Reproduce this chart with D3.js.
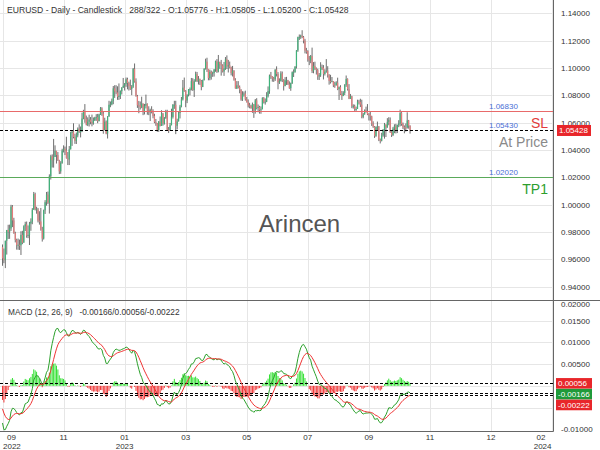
<!DOCTYPE html>
<html><head><meta charset="utf-8">
<script src="https://cdn.jsdelivr.net/npm/d3@7/dist/d3.min.js"></script>
<style>body{margin:0;background:#fff}svg{display:block;font-family:"Liberation Sans",Arial,sans-serif}</style>
</head><body><svg id="c" width="600" height="450"></svg>
<script>
// ---------------- DATA ----------------
const symbol = "EURUSD", period = "Daily", chartType = "Candlestick";
const totalSlots = 322;
const firstDay = [2022, 8, 26];           // first bar: 26 Sep 2022 (month 0-based)
const firstOpen = 0.9690;                 // opens are the previous bar's close
const closes = [
0.9607,0.9594,0.9736,0.9815,0.9802,0.9826,0.9986,0.9885,0.9792,0.9742,
0.9704,0.9707,0.9703,0.9779,0.9722,0.9842,0.9857,0.9774,0.9779,0.9862,
0.9877,0.9963,1.0078,0.9966,0.9966,0.9883,0.9877,0.9818,0.9752,0.9959,
1.0018,1.0074,1.0014,1.0208,1.0354,1.0325,1.0349,1.0394,1.0363,1.0325,
1.0244,1.0305,1.0396,1.0408,1.0397,1.0340,1.0330,1.0405,1.0525,1.0535,
1.0495,1.0466,1.0507,1.0555,1.0535,1.0538,1.0630,1.0681,1.0627,1.0585,
1.0607,1.0623,1.0606,1.0596,1.0617,1.0637,1.0640,1.0611,1.0660,1.0705,
1.0667,1.0547,1.0607,1.0520,1.0644,1.0731,1.0734,1.0760,1.0851,1.0829,
1.0821,1.0789,1.0795,1.0830,1.0856,1.0870,1.0884,1.0917,1.0890,1.0868,
1.0846,1.0863,1.0993,1.0900,1.0794,1.0727,1.0726,1.0712,1.0740,1.0678,
1.0724,1.0738,1.0688,1.0676,1.0694,1.0686,1.0649,1.0604,1.0595,1.0546,
1.0607,1.0576,1.0667,1.0595,1.0636,1.0681,1.0549,1.0545,1.0581,1.0642,
1.0731,1.0731,1.0577,1.0609,1.0670,1.0718,1.0770,1.0856,1.0832,1.0762,
1.0801,1.0844,1.0845,1.0904,1.0839,1.0902,1.0955,1.0904,1.0920,1.0903,
1.0861,1.0910,1.0994,1.1046,1.0992,1.0926,1.0972,1.0957,1.0964,1.0989,
1.1049,1.0974,1.1044,1.1028,1.1019,1.0974,1.0995,1.1063,1.1011,1.1020,
1.1005,1.0962,1.0980,1.0914,1.0850,1.0873,1.0861,1.0840,1.0769,1.0806,
1.0813,1.0771,1.0750,1.0726,1.0723,1.0706,1.0734,1.0689,1.0763,1.0708,
1.0715,1.0693,1.0698,1.0780,1.0749,1.0753,1.0793,1.0831,1.0945,1.0939,
1.0923,1.0917,1.0988,1.0956,1.0894,1.0906,1.0960,1.0911,1.0868,1.0910,
1.0910,1.0880,1.0852,1.0889,1.0969,1.0969,1.1010,1.1128,1.1225,1.1228,
1.1236,1.1226,1.1200,1.1127,1.1124,1.1063,1.1055,1.1087,1.0977,1.1015,
1.0997,1.0985,1.0938,1.0946,1.1006,1.1002,1.0956,1.0973,1.0981,1.0947,
1.0906,1.0904,1.0904,1.0873,1.0872,1.0893,1.0845,1.0860,1.0810,1.0795,
1.0818,1.0877,1.0920,1.0845,1.0775,1.0793,1.0721,1.0723,1.0698,1.0700,
1.0754,1.0752,1.0732,1.0643,1.0660,1.0690,1.0678,1.0661,1.0659,1.0646,
1.0593,1.0570,1.0503,1.0568,1.0573,1.0475,1.0467,1.0506,1.0549,1.0587,
1.0564,1.0606,1.0619,1.0530,1.0510,1.0557,1.0575,1.0545,1.0583,1.0594,
1.0670,1.0590,1.0566,1.0565,1.0564,1.0616,1.05776,1.05428];
const highs = [
0.9709,0.9679,0.9737,0.9815,0.9853,0.9854,0.9999,0.9997,0.9904,0.9802,
0.9751,0.9752,0.9745,0.9806,0.9809,0.9849,0.9875,0.9877,0.9848,0.9874,
0.9900,0.9975,1.0093,1.0088,0.9985,0.9976,0.9952,0.9976,0.9838,0.9964,
1.0033,1.0093,1.0096,1.0222,1.0365,1.0368,1.0481,1.0434,1.0392,1.0385,
1.0328,1.0318,1.0409,1.0434,1.0425,1.0497,1.0385,1.0429,1.0534,1.0545,
1.0595,1.0519,1.0528,1.0565,1.0588,1.0572,1.0673,1.0694,1.0736,1.0652,
1.0639,1.0658,1.0641,1.0659,1.0638,1.0643,1.0662,1.0664,1.0665,1.0714,
1.0713,1.0684,1.0636,1.0616,1.0648,1.0760,1.0755,1.0776,1.0868,1.0874,
1.0874,1.0866,1.0887,1.0836,1.0860,1.0927,1.0890,1.0930,1.0929,1.0900,
1.0915,1.0875,1.1000,1.1033,1.0924,1.0803,1.0759,1.0755,1.0790,1.0740,
1.0737,1.0805,1.0741,1.0720,1.0702,1.0720,1.0698,1.0665,1.0627,1.0598,
1.0612,1.0645,1.0691,1.0670,1.0641,1.0694,1.0694,1.0568,1.0598,1.0702,
1.0736,1.0760,1.0760,1.0629,1.0680,1.0730,1.0788,1.0912,1.0930,1.0838,
1.0808,1.0846,1.0857,1.0927,1.0925,1.0918,1.0973,1.0971,1.0941,1.0922,
1.0912,1.0915,1.0998,1.1068,1.1075,1.0993,1.0988,1.0981,1.0973,1.0992,
1.1054,1.1065,1.1095,1.1046,1.1059,1.1027,1.1044,1.1080,1.1092,1.1059,
1.1047,1.1010,1.1015,1.0984,1.0925,1.0904,1.0904,1.0872,1.0845,1.0830,
1.0828,1.0834,1.0788,1.0770,1.0745,1.0731,1.0747,1.0736,1.0773,1.0779,
1.0733,1.0723,1.0719,1.0786,1.0787,1.0777,1.0823,1.0865,1.0952,1.0971,
1.0940,1.0935,1.0991,1.1012,1.0970,1.0924,1.0976,1.0974,1.0918,1.0933,
1.0935,1.0913,1.0902,1.0893,1.0975,1.0990,1.1013,1.1131,1.1229,1.1245,
1.1244,1.1276,1.1234,1.1213,1.1147,1.1130,1.1088,1.1095,1.1149,1.1043,
1.1046,1.1004,1.0995,1.0963,1.1042,1.1025,1.1021,1.0991,1.1065,1.1013,
1.0955,1.0950,1.0934,1.0903,1.0899,1.0903,1.0929,1.0865,1.0874,1.0832,
1.0830,1.0882,1.0945,1.0924,1.0882,1.0810,1.0796,1.0734,1.0732,1.0717,
1.0768,1.0767,1.0775,1.0768,1.0671,1.0697,1.0717,1.0736,1.0670,1.0681,
1.0651,1.0610,1.0575,1.0573,1.0608,1.0575,1.0484,1.0526,1.0553,1.0598,
1.0577,1.0633,1.0640,1.0638,1.0538,1.0569,1.0588,1.0591,1.0586,1.0618,
1.0695,1.0677,1.0601,1.0580,1.0594,1.0676,1.0620,1.05805];
const lows = [
0.9553,0.9572,0.9536,0.9635,0.9749,0.9750,0.9808,0.9836,0.9787,0.9724,
0.9671,0.9670,0.9669,0.9632,0.9711,0.9725,0.9807,0.9758,0.9755,0.9705,
0.9809,0.9857,0.9964,0.9958,0.9934,0.9870,0.9854,0.9810,0.9730,0.9745,
0.9932,0.9993,1.0004,0.9935,1.0184,1.0272,1.0271,1.0351,1.0301,1.0320,
1.0224,1.0226,1.0299,1.0382,1.0363,1.0337,1.0290,1.0290,1.0404,1.0430,
1.0485,1.0445,1.0444,1.0493,1.0525,1.0492,1.0531,1.0625,1.0599,1.0580,
1.0575,1.0572,1.0588,1.0573,1.0585,1.0612,1.0613,1.0596,1.0610,1.0656,
1.0650,1.0519,1.0544,1.0515,1.0484,1.0644,1.0713,1.0727,1.0735,1.0781,
1.0807,1.0767,1.0766,1.0773,1.0806,1.0855,1.0835,1.0862,1.0844,1.0835,
1.0840,1.0801,1.0854,1.0893,1.0790,1.0708,1.0669,1.0696,1.0706,1.0655,
1.0660,1.0704,1.0658,1.0655,1.0612,1.0668,1.0632,1.0596,1.0577,1.0533,
1.0533,1.0573,1.0588,1.0578,1.0586,1.0628,1.0546,1.0524,1.0542,1.0582,
1.0630,1.0701,1.0516,1.0551,1.0609,1.0631,1.0712,1.0762,1.0826,1.0713,
1.0743,1.0792,1.0800,1.0836,1.0832,1.0788,1.0900,1.0898,1.0879,1.0876,
1.0837,1.0860,1.0913,1.0988,1.0971,1.0910,1.0910,1.0915,1.0935,1.0937,
1.0972,1.0964,1.0968,1.0994,1.0944,1.0967,1.0942,1.0986,1.0993,1.0967,
1.0997,1.0946,1.0938,1.0907,1.0849,1.0846,1.0850,1.0815,1.0760,1.0759,
1.0790,1.0761,1.0747,1.0711,1.0705,1.0702,1.0672,1.0635,1.0666,1.0697,
1.0676,1.0666,1.0665,1.0698,1.0740,1.0732,1.0750,1.0784,1.0811,1.0920,
1.0900,1.0898,1.0905,1.0938,1.0844,1.0883,1.0901,1.0897,1.0835,1.0866,
1.0876,1.0876,1.0848,1.0833,1.0883,1.0934,1.0966,1.0996,1.1118,1.1205,
1.1213,1.1218,1.1180,1.1107,1.1104,1.1046,1.1021,1.1035,1.0963,1.0961,
1.0985,1.0952,1.0913,1.0912,1.0935,1.0985,1.0916,1.0945,1.0965,1.0930,
1.0878,1.0886,1.0896,1.0860,1.0855,1.0874,1.0838,1.0766,1.0803,1.0766,
1.0794,1.0802,1.0862,1.0835,1.0772,1.0774,1.0706,1.0703,1.0686,1.0686,
1.0711,1.0733,1.0714,1.0632,1.0632,1.0659,1.0673,1.0655,1.0616,1.0615,
1.0576,1.0562,1.0488,1.0496,1.0541,1.0465,1.0448,1.0463,1.0497,1.0483,
1.0495,1.0564,1.0581,1.0525,1.0495,1.0502,1.0523,1.0521,1.0524,1.0567,
1.0573,1.0577,1.0553,1.0522,1.0535,1.0557,1.0556,1.05200];
// closes before the first drawn bar (Jul-Sep 2022), used only to warm up the MACD
const priorCloses = [
1.0425,1.0426,1.0266,1.0182,1.0161,1.0186,1.0040,1.0037,1.0061,1.0019,
1.0084,1.0141,1.0226,1.0177,1.0230,1.0212,1.0224,1.0119,1.0200,1.0196,
1.0221,1.0262,1.0166,1.0166,1.0250,1.0180,1.0195,1.0212,1.0298,1.0320,
1.0257,1.0158,1.0170,1.0178,1.0088,1.0037,0.9942,0.9967,0.9970,0.9975,
0.9965,1.0005,1.0019,1.0054,0.9946,0.9952,0.9930,0.9905,1.0007,1.0003,
1.0042,1.0120,0.9974,0.9982,0.9998,1.0015,1.0027,0.9972,0.9837,0.9838,0.9690];
const levelNames  = ["SL", "At Price", "TP1"];
const levelValues = [1.0683, 1.0543, 1.0202];
const macdParams = [12, 26, 9];
const macdShown = [-0.00166, 0.00056, -0.00222];   // MACD / histogram / signal
const watermark = "Arincen";

// ---------------- LAYOUT / STYLE ----------------
const W = 600, H = 450, axisX = 553.5, sepY = 300.5, botY = 431.5;
const C = {grid:"#e6e6e6", axis:"#666", text:"#333", up:"#3fb27a", down:"#e57b7b", wick:"#4a4a4a",
  SL:"#e23b3b", "At Price":"#8a8a8a", TP1:"#2e9e2e", levelLine:{SL:"#e86a6a","At Price":"#000",TP1:"#5aaa5a"},
  val:"#4a6fd6", macd:"#2ca02c", signal:"#ee3333", hUp:"#33e033", hDn:"#f03a3a", boxRed:"#e8262a", boxGreen:"#1f9a3a"};

const n = closes.length;
const opens = closes.map((c,i)=> i===0 ? firstOpen : closes[i-1]);

const svg = d3.select("#c");
const x = d3.scaleLinear().domain([0, 388]).range([2.5, axisX]);
const y = d3.scaleLinear().domain([0.94, 1.14]).range([286.7, 13.3]);
const ym = d3.scaleLinear().domain([-0.01, 0.01]).range([429.3, 342.3]);

// dates: trading days for data, calendar days for empty future slots
const dates = [];
{ let d = new Date(firstDay[0], firstDay[1], firstDay[2]);
  while (dates.length < n) { const wd = d.getDay(); if (wd!==0 && wd!==6) dates.push(new Date(d)); d.setDate(d.getDate()+1); } }
function dateAt(i){ if (i < n) return dates[i]; const t = new Date(dates[n-1]); t.setDate(t.getDate() + (i-n+1)); return t; }
const tickIdx = d3.range(0, 388, 43);

// clip paths
const defs = svg.append("defs");
defs.append("clipPath").attr("id","cm").append("rect").attr("x",0).attr("y",0).attr("width",axisX).attr("height",sepY);
defs.append("clipPath").attr("id","cd").append("rect").attr("x",0).attr("y",sepY).attr("width",axisX).attr("height",botY-sepY);

// grid
const g = svg.append("g");
const pTicks = d3.range(0, 11).map(k => 0.94 + k*0.02);
g.selectAll(".hg").data(pTicks).join("line").attr("x1",0).attr("x2",axisX)
  .attr("y1",d=>Math.round(y(d))+0.5).attr("y2",d=>Math.round(y(d))+0.5).attr("stroke",C.grid);
const mTicks = [0.015,0.01,0.005,0,-0.005];
g.selectAll(".mg").data(mTicks).join("line").attr("x1",0).attr("x2",axisX)
  .attr("y1",d=>Math.round(ym(d))+0.5).attr("y2",d=>Math.round(ym(d))+0.5).attr("stroke",C.grid);
g.selectAll(".vg").data(tickIdx).join("line").attr("y1",0).attr("y2",botY)
  .attr("x1",d=>Math.round(x(d))+0.5).attr("x2",d=>Math.round(x(d))+0.5).attr("stroke",C.grid);

// candles
const cg = svg.append("g").attr("clip-path","url(#cm)");
const idx = d3.range(n);
cg.selectAll(".wk").data(idx).join("line")
  .attr("x1",i=>x(i)).attr("x2",i=>x(i))
  .attr("y1",i=>y(Math.max(highs[i],opens[i],closes[i]))).attr("y2",i=>y(Math.min(lows[i],opens[i],closes[i])))
  .attr("stroke",C.wick).attr("stroke-width",0.8);
cg.selectAll(".bd").data(idx).join("rect")
  .attr("x",i=>x(i)-0.6).attr("width",1.2)
  .attr("y",i=>y(Math.max(opens[i],closes[i])))
  .attr("height",i=>Math.max(1, Math.abs(y(opens[i])-y(closes[i]))))
  .attr("fill",i=>closes[i]>=opens[i]?C.up:C.down);

// level lines
levelNames.forEach((nm,k)=>{
  const yy = Math.round(y(levelValues[k]))+0.5;
  const ln = svg.append("line").attr("x1",0).attr("x2",axisX).attr("y1",yy).attr("y2",yy)
    .attr("stroke",C.levelLine[nm]).attr("stroke-width",1);
  if (nm==="At Price") ln.attr("stroke-dasharray","3,2");
  svg.append("text").attr("x",489).attr("y",yy-2.5).attr("font-size",8).attr("fill",C.val).text(levelValues[k].toFixed(5));
  svg.append("text").attr("x",548).attr("y",yy+16).attr("text-anchor","end").attr("font-size",14).attr("fill",C[nm]).text(nm);
});

// watermark
svg.append("text").attr("x",299.5).attr("y",232).attr("text-anchor","middle").attr("font-size",24).attr("fill","#555").text(watermark);

// MACD computation
function ema(arr, p){ const a = 2/(p+1); const out=[]; arr.forEach((v,i)=> out.push(i===0?v:a*v+(1-a)*out[i-1])); return out; }
const all = priorCloses.concat(closes);
const e1 = ema(all, macdParams[0]), e2 = ema(all, macdParams[1]);
const macdAll = all.map((v,i)=>e1[i]-e2[i]);
const sigAll = ema(macdAll, macdParams[2]);
const off = priorCloses.length;
const macd = macdAll.slice(off), signal = sigAll.slice(off), hist = macd.map((v,i)=>v-signal[i]);

const mg = svg.append("g").attr("clip-path","url(#cd)");
mg.selectAll(".hb").data(idx).join("rect")
  .attr("x",i=>x(i)-0.5).attr("width",1)
  .attr("y",i=>Math.min(ym(0),ym(hist[i]))).attr("height",i=>Math.abs(ym(hist[i])-ym(0)))
  .attr("fill",i=>hist[i]>=0?C.hUp:C.hDn);
[macdShown[1], macdShown[0], macdShown[2]].forEach(v=>{
  const yy = Math.round(ym(v))+0.5;
  mg.append("line").attr("x1",0).attr("x2",axisX).attr("y1",yy).attr("y2",yy).attr("stroke","#000").attr("stroke-dasharray","3,2");
});
const line = arr => d3.line().x((d,i)=>x(i)).y(d=>ym(d))(arr);
mg.append("path").attr("d",line(macd)).attr("fill","none").attr("stroke",C.macd).attr("stroke-width",1);
mg.append("path").attr("d",line(signal)).attr("fill","none").attr("stroke",C.signal).attr("stroke-width",1);

// axes frame
svg.append("line").attr("x1",axisX).attr("x2",axisX).attr("y1",0).attr("y2",botY).attr("stroke",C.axis);
svg.append("line").attr("x1",0).attr("x2",W).attr("y1",sepY).attr("y2",sepY).attr("stroke",C.axis);
svg.append("line").attr("x1",0).attr("x2",axisX).attr("y1",botY).attr("y2",botY).attr("stroke",C.axis);

// price axis labels
svg.selectAll(".pl").data(pTicks).join("text").attr("x",561).attr("y",d=>y(d)+3).attr("font-size",8).attr("fill",C.text)
  .text(d=>d.toFixed(5));
// current price box
const last = closes[n-1];
svg.append("rect").attr("x",557).attr("y",y(last)-5.5).attr("width",34).attr("height",11).attr("fill",C.boxRed);
svg.append("text").attr("x",559).attr("y",y(last)+3).attr("font-size",8).attr("fill","#fff").text(last.toFixed(5));

// MACD value boxes (stacked to avoid overlap)
const boxes = [{v:macdShown[1],c:C.boxRed},{v:macdShown[0],c:C.boxGreen},{v:macdShown[2],c:C.boxRed}]
  .sort((a,b)=>b.v-a.v);
let prev = -Infinity;
boxes.forEach(b=>{ b.y = Math.max(ym(b.v), prev+10.8); prev = b.y; });

// MACD axis labels (labels hidden behind the value boxes are not drawn)
const mLab = [0.02,0.015,0.01,0.005,0,-0.005,-0.01]
  .filter(d => !boxes.some(b => Math.abs(Math.max(ym(d),304) - b.y) < 9));
svg.selectAll(".ml").data(mLab).join("text").attr("x",561).attr("y",d=>Math.max(ym(d),304)+3).attr("font-size",8).attr("fill",C.text)
  .text(d=>d.toFixed(5));
boxes.forEach(b=>{
  svg.append("rect").attr("x",556).attr("y",b.y-5.3).attr("width",36).attr("height",10.6).attr("fill",b.c);
  svg.append("text").attr("x",558).attr("y",b.y+3).attr("font-size",8).attr("fill","#fff").text(b.v.toFixed(5));
});

// time axis labels
const fmtM = d3.timeFormat("%m"), fmtY = d3.timeFormat("%Y");
tickIdx.forEach((t,k)=>{
  const d = dateAt(t); const xx = x(t);
  const showY = k===0 || fmtY(d)!==fmtY(dateAt(tickIdx[k-1]));
  let anchor = "middle", tx = xx;
  if (xx < 12) { anchor = "start"; tx = 3; }
  if (xx > axisX - 10) { anchor = "end"; tx = axisX - 2; }
  const mx = anchor==="start" ? tx+4 : (anchor==="end" ? tx-6 : tx);
  svg.append("text").attr("x",mx).attr("y",440).attr("text-anchor",anchor).attr("font-size",8).attr("fill",C.text).text(fmtM(d));
  if (showY) svg.append("text").attr("x",tx).attr("y",449).attr("text-anchor",anchor).attr("font-size",8).attr("fill",C.text).text(fmtY(d));
});

// headers
const lo = opens[n-1], lh = highs[n-1], ll = lows[n-1];
svg.append("text").attr("x",7).attr("y",13).attr("font-size",8.6).attr("fill",C.text).attr("xml:space","preserve")
  .text(`${symbol} - ${period} - ${chartType}   ${n}/${totalSlots} - O:${lo.toFixed(5)} - H:${lh.toFixed(5)} - L:${ll.toFixed(5)} - C:${last.toFixed(5)}`);
svg.append("text").attr("x",8).attr("y",315).attr("font-size",8.3).attr("fill",C.text).attr("xml:space","preserve")
  .text(`MACD (${macdParams.join(", ")})   ${macdShown.map(v=>v.toFixed(5)).join("/")}`);
</script></body></html>
